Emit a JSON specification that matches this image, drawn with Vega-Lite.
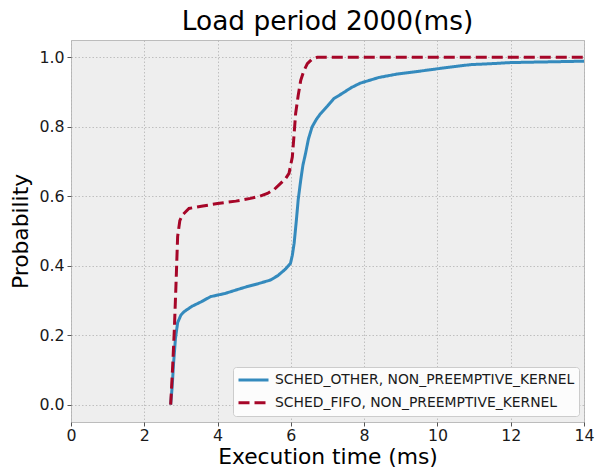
{
  "$schema": "https://vega.github.io/schema/vega-lite/v6.json",
  "autosize": {"type": "none"},
  "width": 513,
  "height": 382,
  "padding": {"left": 71, "top": 40, "right": 14, "bottom": 45},
  "background": "#ffffff",
  "title": {
    "text": "Load period 2000(ms)",
    "font": "DejaVu Sans",
    "fontSize": 26.4,
    "fontWeight": "normal",
    "color": "#000000",
    "anchor": "middle",
    "frame": "group",
    "baseline": "alphabetic",
    "offset": 8,
    "dy": 24
  },
  "config": {
    "view": {"fill": "#eeeeee", "stroke": "#bcbcbc", "strokeWidth": 1},
    "font": "DejaVu Sans",
    "axis": {
      "domain": false,
      "grid": true,
      "gridColor": "#b2b2b2",
      "gridDash": [1.5, 2],
      "gridWidth": 0.8,
      "tickColor": "#555555",
      "tickSize": 4,
      "tickWidth": 1,
      "labelFont": "DejaVu Sans",
      "labelFontSize": 15.8,
      "labelColor": "#1a1a1a",
      "titleFont": "DejaVu Sans",
      "titleFontSize": 21.8,
      "titleFontWeight": "normal",
      "titleColor": "#000000"
    }
  },
  "data": {
    "values": [
      {"series": "SCHED_OTHER, NON_PREEMPTIVE_KERNEL", "x": 2.72, "y": 0},
      {"series": "SCHED_OTHER, NON_PREEMPTIVE_KERNEL", "x": 2.76, "y": 0.05},
      {"series": "SCHED_OTHER, NON_PREEMPTIVE_KERNEL", "x": 2.8, "y": 0.12},
      {"series": "SCHED_OTHER, NON_PREEMPTIVE_KERNEL", "x": 2.85, "y": 0.19},
      {"series": "SCHED_OTHER, NON_PREEMPTIVE_KERNEL", "x": 2.91, "y": 0.236},
      {"series": "SCHED_OTHER, NON_PREEMPTIVE_KERNEL", "x": 3.0, "y": 0.258},
      {"series": "SCHED_OTHER, NON_PREEMPTIVE_KERNEL", "x": 3.09, "y": 0.268},
      {"series": "SCHED_OTHER, NON_PREEMPTIVE_KERNEL", "x": 3.3, "y": 0.283},
      {"series": "SCHED_OTHER, NON_PREEMPTIVE_KERNEL", "x": 3.55, "y": 0.296},
      {"series": "SCHED_OTHER, NON_PREEMPTIVE_KERNEL", "x": 3.81, "y": 0.311},
      {"series": "SCHED_OTHER, NON_PREEMPTIVE_KERNEL", "x": 4.2, "y": 0.32},
      {"series": "SCHED_OTHER, NON_PREEMPTIVE_KERNEL", "x": 4.5, "y": 0.33},
      {"series": "SCHED_OTHER, NON_PREEMPTIVE_KERNEL", "x": 4.81, "y": 0.34},
      {"series": "SCHED_OTHER, NON_PREEMPTIVE_KERNEL", "x": 5.1, "y": 0.348},
      {"series": "SCHED_OTHER, NON_PREEMPTIVE_KERNEL", "x": 5.45, "y": 0.359},
      {"series": "SCHED_OTHER, NON_PREEMPTIVE_KERNEL", "x": 5.65, "y": 0.372},
      {"series": "SCHED_OTHER, NON_PREEMPTIVE_KERNEL", "x": 5.85, "y": 0.39},
      {"series": "SCHED_OTHER, NON_PREEMPTIVE_KERNEL", "x": 5.99, "y": 0.407},
      {"series": "SCHED_OTHER, NON_PREEMPTIVE_KERNEL", "x": 6.04, "y": 0.43},
      {"series": "SCHED_OTHER, NON_PREEMPTIVE_KERNEL", "x": 6.09, "y": 0.465},
      {"series": "SCHED_OTHER, NON_PREEMPTIVE_KERNEL", "x": 6.15, "y": 0.53},
      {"series": "SCHED_OTHER, NON_PREEMPTIVE_KERNEL", "x": 6.2, "y": 0.59},
      {"series": "SCHED_OTHER, NON_PREEMPTIVE_KERNEL", "x": 6.27, "y": 0.647},
      {"series": "SCHED_OTHER, NON_PREEMPTIVE_KERNEL", "x": 6.33, "y": 0.69},
      {"series": "SCHED_OTHER, NON_PREEMPTIVE_KERNEL", "x": 6.4, "y": 0.723},
      {"series": "SCHED_OTHER, NON_PREEMPTIVE_KERNEL", "x": 6.48, "y": 0.765},
      {"series": "SCHED_OTHER, NON_PREEMPTIVE_KERNEL", "x": 6.58, "y": 0.8},
      {"series": "SCHED_OTHER, NON_PREEMPTIVE_KERNEL", "x": 6.7, "y": 0.822},
      {"series": "SCHED_OTHER, NON_PREEMPTIVE_KERNEL", "x": 6.81, "y": 0.838},
      {"series": "SCHED_OTHER, NON_PREEMPTIVE_KERNEL", "x": 7.0, "y": 0.86},
      {"series": "SCHED_OTHER, NON_PREEMPTIVE_KERNEL", "x": 7.17, "y": 0.881},
      {"series": "SCHED_OTHER, NON_PREEMPTIVE_KERNEL", "x": 7.4, "y": 0.896},
      {"series": "SCHED_OTHER, NON_PREEMPTIVE_KERNEL", "x": 7.65, "y": 0.913},
      {"series": "SCHED_OTHER, NON_PREEMPTIVE_KERNEL", "x": 7.9, "y": 0.926},
      {"series": "SCHED_OTHER, NON_PREEMPTIVE_KERNEL", "x": 8.4, "y": 0.942},
      {"series": "SCHED_OTHER, NON_PREEMPTIVE_KERNEL", "x": 8.9, "y": 0.952},
      {"series": "SCHED_OTHER, NON_PREEMPTIVE_KERNEL", "x": 9.5, "y": 0.96},
      {"series": "SCHED_OTHER, NON_PREEMPTIVE_KERNEL", "x": 9.99, "y": 0.967},
      {"series": "SCHED_OTHER, NON_PREEMPTIVE_KERNEL", "x": 10.5, "y": 0.974},
      {"series": "SCHED_OTHER, NON_PREEMPTIVE_KERNEL", "x": 10.9, "y": 0.979},
      {"series": "SCHED_OTHER, NON_PREEMPTIVE_KERNEL", "x": 11.5, "y": 0.982},
      {"series": "SCHED_OTHER, NON_PREEMPTIVE_KERNEL", "x": 11.99, "y": 0.985},
      {"series": "SCHED_OTHER, NON_PREEMPTIVE_KERNEL", "x": 13.0, "y": 0.987},
      {"series": "SCHED_OTHER, NON_PREEMPTIVE_KERNEL", "x": 14.0, "y": 0.989},
      {"series": "SCHED_FIFO, NON_PREEMPTIVE_KERNEL", "x": 2.72, "y": 0},
      {"series": "SCHED_FIFO, NON_PREEMPTIVE_KERNEL", "x": 2.77, "y": 0.1},
      {"series": "SCHED_FIFO, NON_PREEMPTIVE_KERNEL", "x": 2.82, "y": 0.216},
      {"series": "SCHED_FIFO, NON_PREEMPTIVE_KERNEL", "x": 2.87, "y": 0.36},
      {"series": "SCHED_FIFO, NON_PREEMPTIVE_KERNEL", "x": 2.91, "y": 0.484},
      {"series": "SCHED_FIFO, NON_PREEMPTIVE_KERNEL", "x": 2.97, "y": 0.53},
      {"series": "SCHED_FIFO, NON_PREEMPTIVE_KERNEL", "x": 3.04, "y": 0.546},
      {"series": "SCHED_FIFO, NON_PREEMPTIVE_KERNEL", "x": 3.22, "y": 0.565},
      {"series": "SCHED_FIFO, NON_PREEMPTIVE_KERNEL", "x": 3.6, "y": 0.572},
      {"series": "SCHED_FIFO, NON_PREEMPTIVE_KERNEL", "x": 4.0, "y": 0.579},
      {"series": "SCHED_FIFO, NON_PREEMPTIVE_KERNEL", "x": 4.5, "y": 0.586},
      {"series": "SCHED_FIFO, NON_PREEMPTIVE_KERNEL", "x": 4.9, "y": 0.594},
      {"series": "SCHED_FIFO, NON_PREEMPTIVE_KERNEL", "x": 5.15, "y": 0.6},
      {"series": "SCHED_FIFO, NON_PREEMPTIVE_KERNEL", "x": 5.36, "y": 0.608},
      {"series": "SCHED_FIFO, NON_PREEMPTIVE_KERNEL", "x": 5.55, "y": 0.62},
      {"series": "SCHED_FIFO, NON_PREEMPTIVE_KERNEL", "x": 5.72, "y": 0.637},
      {"series": "SCHED_FIFO, NON_PREEMPTIVE_KERNEL", "x": 5.85, "y": 0.65},
      {"series": "SCHED_FIFO, NON_PREEMPTIVE_KERNEL", "x": 5.95, "y": 0.666},
      {"series": "SCHED_FIFO, NON_PREEMPTIVE_KERNEL", "x": 6.04, "y": 0.713},
      {"series": "SCHED_FIFO, NON_PREEMPTIVE_KERNEL", "x": 6.09, "y": 0.78},
      {"series": "SCHED_FIFO, NON_PREEMPTIVE_KERNEL", "x": 6.13, "y": 0.838},
      {"series": "SCHED_FIFO, NON_PREEMPTIVE_KERNEL", "x": 6.2, "y": 0.89},
      {"series": "SCHED_FIFO, NON_PREEMPTIVE_KERNEL", "x": 6.27, "y": 0.934},
      {"series": "SCHED_FIFO, NON_PREEMPTIVE_KERNEL", "x": 6.35, "y": 0.96},
      {"series": "SCHED_FIFO, NON_PREEMPTIVE_KERNEL", "x": 6.45, "y": 0.982},
      {"series": "SCHED_FIFO, NON_PREEMPTIVE_KERNEL", "x": 6.56, "y": 0.993},
      {"series": "SCHED_FIFO, NON_PREEMPTIVE_KERNEL", "x": 6.72, "y": 1.0},
      {"series": "SCHED_FIFO, NON_PREEMPTIVE_KERNEL", "x": 14.0, "y": 1.0}
    ]
  },
  "mark": {"type": "line", "strokeWidth": 3, "clip": true},
  "encoding": {
    "x": {
      "field": "x",
      "type": "quantitative",
      "scale": {"domain": [0, 14], "nice": false, "zero": false},
      "axis": {
        "title": "Execution time (ms)",
        "values": [0, 2, 4, 6, 8, 10, 12, 14],
        "format": "d",
        "labelBaseline": "alphabetic",
        "labelPadding": 14,
        "labelFlush": false,
        "titleBaseline": "alphabetic",
        "titleY": 41
      }
    },
    "y": {
      "field": "y",
      "type": "quantitative",
      "scale": {"domain": [-0.05, 1.05], "nice": false, "zero": false},
      "axis": {
        "title": "Probability",
        "values": [0, 0.2, 0.4, 0.6, 0.8, 1.0],
        "format": ".1f",
        "labelPadding": 3,
        "titleBaseline": "alphabetic",
        "titleX": -44,
        "titleY": 191
      }
    },
    "color": {
      "field": "series",
      "type": "nominal",
      "scale": {
        "domain": ["SCHED_OTHER, NON_PREEMPTIVE_KERNEL", "SCHED_FIFO, NON_PREEMPTIVE_KERNEL"],
        "range": ["#348ABD", "#A60628"]
      },
      "legend": {
        "title": null,
        "orient": "none",
        "legendX": 162,
        "legendY": 327,
        "fillColor": "#fcfcfc",
        "strokeColor": "#cccccc",
        "cornerRadius": 3,
        "padding": 4,
        "symbolType": "stroke",
        "symbolSize": 900,
        "symbolStrokeWidth": 3,
        "clipHeight": 18,
        "rowPadding": 4.7,
        "labelOffset": 5,
        "labelFont": "DejaVu Sans",
        "labelFontSize": 13.9,
        "labelColor": "#1a1a1a",
        "labelLimit": 400
      }
    },
    "strokeDash": {
      "field": "series",
      "type": "nominal",
      "scale": {
        "domain": ["SCHED_OTHER, NON_PREEMPTIVE_KERNEL", "SCHED_FIFO, NON_PREEMPTIVE_KERNEL"],
        "range": [[1, 0], [11, 5]]
      },
      "legend": null
    }
  }
}
